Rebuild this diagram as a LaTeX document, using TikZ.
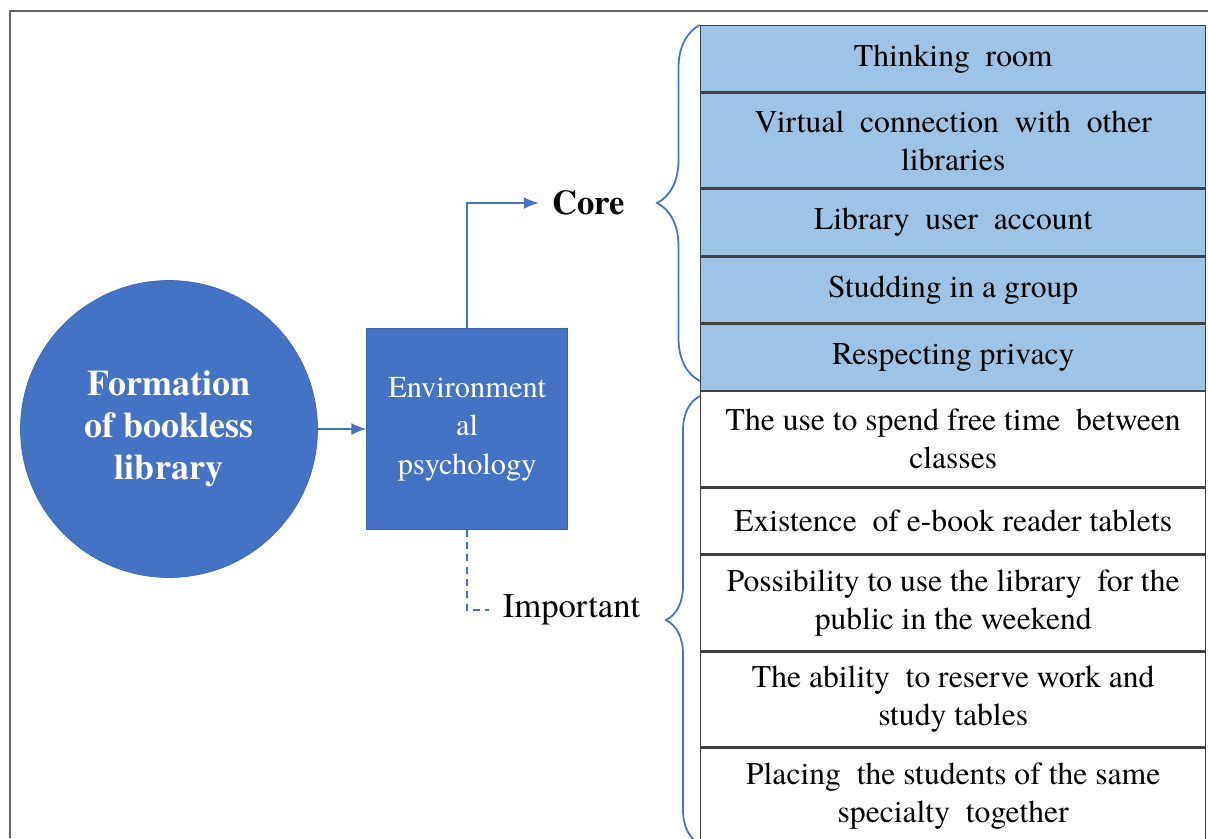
\documentclass[tikz,border=0pt]{standalone}
\usepackage{fontspec}
\setmainfont{texgyretermes}[
	Extension=.otf,
	UprightFont=*-regular,
	BoldFont=*-bold,
	ItalicFont=*-italic,
	BoldItalicFont=*-bolditalic]
\usepackage{tikz}
\usetikzlibrary{arrows.meta,positioning,shapes,decorations.pathreplacing}
\definecolor{darkblue}{HTML}{4472C4}
\definecolor{lightblue}{HTML}{9DC3E6}
\definecolor{gridline}{HTML}{404040}
\tikzstyle{bigcircle}=[
	circle,
	fill=darkblue,
	draw=darkblue!90!black,
	minimum size=5.94cm,
	text=white,
	align=center,
	font=\fontsize{20.5}{23.8}\selectfont\bfseries]
\tikzstyle{envbox}=[
	rectangle,
	fill=darkblue,
	draw=darkblue!85!black,
	minimum width=4.02cm,
	minimum height=4.02cm,
	text=white,
	align=center,
	font=\fontsize{17.3}{22}\selectfont]
\tikzstyle{tag}=[
	font=\fontsize{19.7}{23}\selectfont,
	inner sep=0.26cm]
\tikzstyle{cell}=[
	rectangle,
	draw=gridline,
	line width=0.8pt,
	minimum width=10.1cm,
	align=center,
	font=\fontsize{18}{21.5}\selectfont]
\tikzstyle{corecell}=[cell,fill=lightblue]
\tikzstyle{impcell}=[cell,fill=white]
\tikzstyle{onerow}=[minimum height=1.32cm]
\tikzstyle{tworow}=[minimum height=1.9cm]
\tikzstyle{link}=[darkblue,line width=1pt]
\tikzstyle{curly}=[darkblue,line width=1pt,decorate]

\begin{document}
\begin{tikzpicture}[>={Latex[length=0.3cm,width=0.24cm]}]
		\useasboundingbox (0,0) rectangle (24.16,-16.76);
		\draw[gridline!80,line width=0.8pt] (0.2,-16.76) -- (0.2,-0.22) -- (24.16,-0.22);
		% left part
		\node[bigcircle] (circ) at (3.38,-8.58) {Formation\\of bookless\\library};
		\node[envbox] (env) [right=0.97cm of circ] {Environment\\al\\psychology}
			edge[link,<-] (circ);
		\node[tag,font=\fontsize{19.7}{23}\selectfont\bfseries] (core) at (11.77,-4.06) {Core};
		\node[tag] (imp) at (11.43,-12.2) {Important};
		\draw[link,->] (env.north) |- (core.west);
		\draw[link,dashed,dash pattern=on 4pt off 3pt] (env.south) |- (imp.west);
		% table of the core items
		\begin{scope}[node distance=0cm]
			\node[corecell,onerow,anchor=north west] (r1) at (14,-0.5) {Thinking\ \ room};
			\node[corecell,tworow] (r2) [below=of r1] {Virtual\ \ connection\ \ with\ \ other\\libraries};
			\node[corecell,onerow] (r3) [below=of r2] {Library\ \ user\ \ account};
			\node[corecell,onerow] (r4) [below=of r3] {Studding in a group};
			\node[corecell,onerow] (r5) [below=of r4] {Respecting privacy};
			% table of the important items
			\node[impcell,tworow] (r6) [below=of r5] {The use to spend free time\ \ between\\classes};
			\node[impcell,onerow] (r7) [below=of r6] {Existence\ \ of e-book reader tablets};
			\node[impcell,tworow] (r8) [below=of r7] {Possibility to use the library\ \ for the\\public in the weekend};
			\node[impcell,tworow] (r9) [below=of r8] {The ability\ \ to reserve work and\\study tables};
			\node[impcell,tworow] (r10) [below=of r9] {Placing\ \ the students of the same\\specialty\ \ together};
		\end{scope}
		\draw[curly,decoration={brace,amplitude=0.86cm}] ([yshift=0.2cm]r5.south west) -- (r1.north west);
		\draw[curly,decoration={brace,amplitude=0.68cm}] (r10.south west) -- ([yshift=-0.1cm]r6.north west);
	\end{tikzpicture}
\end{document}
